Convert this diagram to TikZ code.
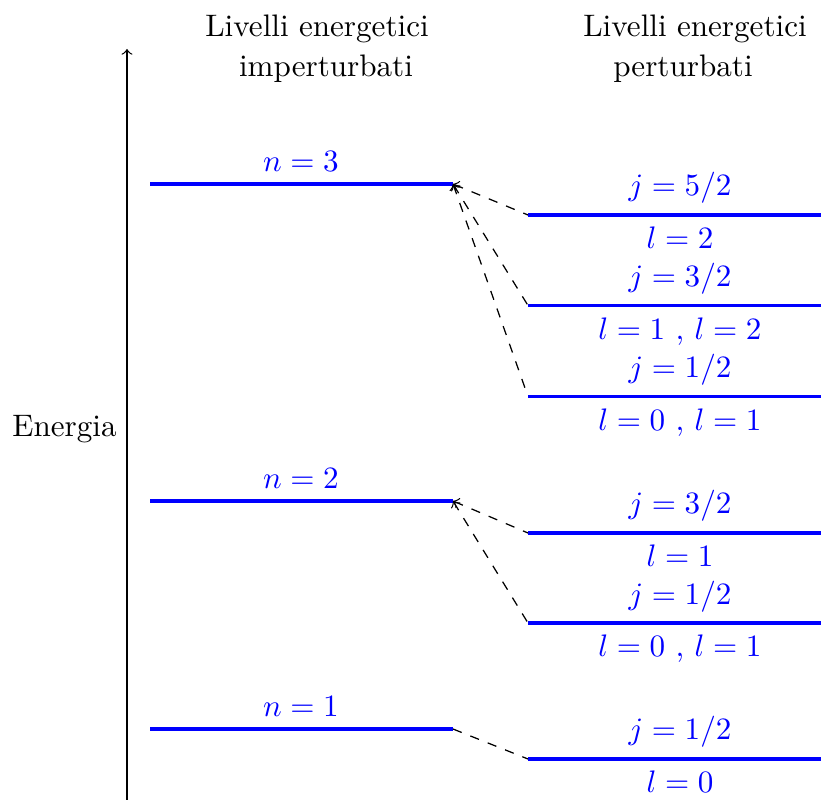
\documentclass[tikz,border=0pt]{standalone}
\begin{document}
\begin{tikzpicture}[x=0.3215pt,y=-0.3215pt,
  level/.style={blue,line width=1.2pt},
  conn/.style={dashed,line width=0.4pt},
  lab/.style={text=blue,anchor=base,inner sep=0pt},
  ttl/.style={anchor=base,inner sep=0pt}]
\useasboundingbox (0,0) rectangle (821,800);
% axis
\coordinate (axB) at (127,800);
\coordinate (axT) at (127,49);
\draw[->,line width=0.4pt] (axB) -- (axT);
\node[ttl] (en) at (64.5,437) {Energia};
% titles
\node[ttl] (t1a) at (317,37) {Livelli energetici};
\node[ttl] (t1b) at (326,77) {imperturbati};
\node[ttl] (t2a) at (695,37) {Livelli energetici};
\node[ttl] (t2b) at (683,77) {perturbati};
% unperturbed levels
\coordinate (n3L) at (150,184); \coordinate (n3R) at (453,184);
\coordinate (n2L) at (150,501); \coordinate (n2R) at (453,501);
\coordinate (n1L) at (150,729); \coordinate (n1R) at (453,729);
\draw[level] (n3L) -- (n3R);
\draw[level] (n2L) -- (n2R);
\draw[level] (n1L) -- (n1R);
\node[lab] (ln3) at (301,172) {$n=3$};
\node[lab] (ln2) at (301,489) {$n=2$};
\node[lab] (ln1) at (301,717) {$n=1$};
% perturbed levels
\coordinate (a1L) at (528,215);   \coordinate (a1R) at (821,215);
\coordinate (a2L) at (528,305.5); \coordinate (a2R) at (821,305.5);
\coordinate (a3L) at (528,396.5); \coordinate (a3R) at (821,396.5);
\coordinate (b1L) at (528,533);   \coordinate (b1R) at (821,533);
\coordinate (b2L) at (528,623);   \coordinate (b2R) at (821,623);
\coordinate (c1L) at (528,759);   \coordinate (c1R) at (821,759);
\foreach \p in {a1,a2,a3,b1,b2,c1} \draw[level] (\p L) -- (\p R);
% labels
\node[lab] (ja1) at (680,196)   {$j=5/2$};
\node[lab] (la1) at (680,249)   {$l=2$};
\node[lab] (ja2) at (680,286.5) {$j=3/2$};
\node[lab] (la2) at (680,339.5) {$l=1$ , $l=2$};
\node[lab] (ja3) at (680,377.5) {$j=1/2$};
\node[lab] (la3) at (680,430.5) {$l=0$ , $l=1$};
\node[lab] (jb1) at (680,514)   {$j=3/2$};
\node[lab] (lb1) at (680,567)   {$l=1$};
\node[lab] (jb2) at (680,604)   {$j=1/2$};
\node[lab] (lb2) at (680,657)   {$l=0$ , $l=1$};
\node[lab] (jc1) at (680,740)   {$j=1/2$};
\node[lab] (lc1) at (680,793)   {$l=0$};
% connectors
\draw[conn,<-] (n3R) -- (a1L);
\draw[conn,<-] (n3R) -- (a2L);
\draw[conn,<-] (n3R) -- (a3L);
\draw[conn,<-] (n2R) -- (b1L);
\draw[conn,<-] (n2R) -- (b2L);
\draw[conn] (n1R) -- (c1L);
\end{tikzpicture}
\end{document}
